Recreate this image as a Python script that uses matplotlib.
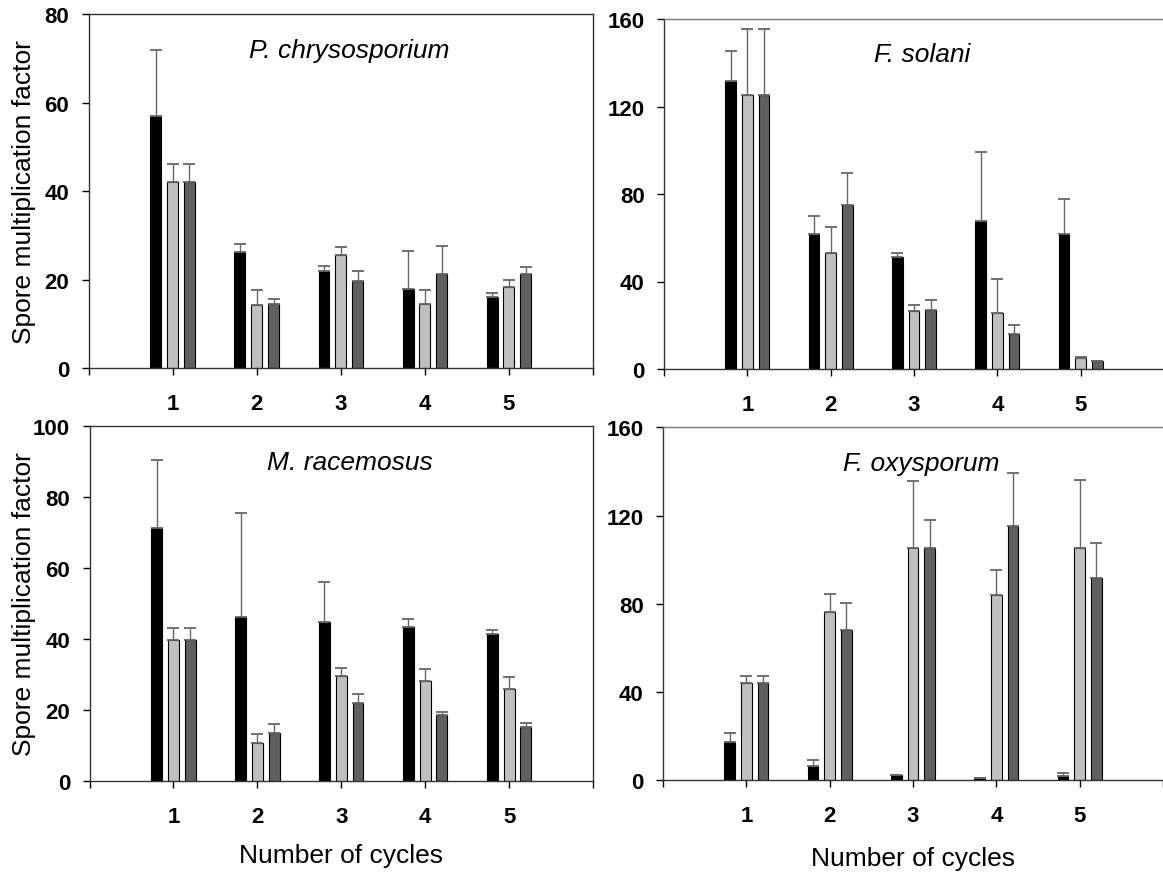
import numpy as np
import matplotlib.pyplot as plt

plt.rcParams['font.family'] = ['Liberation Sans', 'DejaVu Sans']

cycles = [1, 2, 3, 4, 5]

# P. chrysosporium
pc_black = [57.0, 26.3, 22.0, 17.9, 16.1]
pc_black_err = [15.0, 1.9, 1.1, 8.7, 1.0]
pc_light = [42.1, 14.3, 25.6, 14.6, 18.4]
pc_light_err = [4.0, 3.5, 1.9, 3.2, 1.5]
pc_dark = [42.1, 14.5, 19.8, 21.2, 21.2]
pc_dark_err = [4.0, 1.1, 2.2, 6.4, 1.6]

# F. solani
fs_black = [131.5, 61.6, 51.0, 67.5, 61.6]
fs_black_err = [13.7, 8.5, 1.9, 31.5, 16.0]
fs_light = [125.1, 52.9, 26.4, 25.6, 5.2]
fs_light_err = [30.2, 12.0, 2.7, 15.4, 0.2]
fs_dark = [125.1, 74.8, 26.8, 16.2, 3.8]
fs_dark_err = [30.2, 14.6, 4.7, 3.8, 0.0]

# M. racemosus
mr_black = [71.2, 46.3, 44.8, 43.4, 41.4]
mr_black_err = [19.2, 29.3, 11.4, 2.3, 1.1]
mr_light = [39.6, 10.6, 29.5, 28.2, 25.9]
mr_light_err = [3.5, 2.6, 2.2, 3.4, 3.3]
mr_dark = [39.6, 13.4, 22.0, 18.6, 15.1]
mr_dark_err = [3.5, 2.5, 2.6, 0.8, 1.1]

# F. oxysporum
fo_black = [17.4, 6.5, 2.3, 0.9, 2.1]
fo_black_err = [3.9, 2.7, 0.0, 0.0, 1.1]
fo_light = [44.1, 76.1, 105.3, 84.0, 105.3]
fo_light_err = [3.0, 8.4, 30.2, 11.5, 31.0]
fo_dark = [44.1, 68.0, 105.3, 115.1, 91.9]
fo_dark_err = [3.0, 12.4, 12.8, 24.2, 15.8]

W, H = 1163, 879
fig = plt.figure(figsize=(W / 100, H / 100), dpi=100)


def px_axes(x0, x1, ytop, ybot):
    return fig.add_axes([x0 / W, 1 - ybot / H, (x1 - x0) / W, (ybot - ytop) / H])


colors = ['#000000', '#c0c0c0', '#606060']
offsets = [-0.2, 0.0, 0.2]
width = 0.13


def panel(ax, title, series, errs, ymax, yticks, right_side):
    x = np.array(cycles)
    for vals, err, col, off in zip(series, errs, colors, offsets):
        ax.bar(x + off, vals, width, color=col, edgecolor='#000000', linewidth=0.8, zorder=2)
        ax.errorbar(x + off, vals, yerr=[np.zeros(len(err)), err], fmt='none',
                    ecolor='#666666', elinewidth=1.0, capsize=4.5, capthick=1.3, zorder=3)
    ax.set_xlim(0, 6)
    ax.set_ylim(0, ymax)
    ax.set_xticks(range(0, 7))
    ax.set_xticklabels(['', '1', '2', '3', '4', '5', ''])
    ax.set_yticks(yticks)
    ax.tick_params(axis='x', direction='out', length=5, width=1, pad=13, labelsize=16)
    ax.tick_params(axis='y', direction='out', length=5, width=1, pad=9, labelsize=16)
    for lab in ax.get_xticklabels() + ax.get_yticklabels():
        lab.set_fontweight('bold')
    for sp in ax.spines.values():
        sp.set_color('#333333')
        sp.set_linewidth(1.0)
    if right_side:
        ax.spines['right'].set_visible(False)
        ax.spines['top'].set_color('#777777')
    ax.text(3.1, ymax * 0.88, title, style='italic', fontsize=19, ha='center', va='baseline')


ax1 = px_axes(88.6, 593, 15.3, 369.3)
panel(ax1, 'P. chrysosporium', [pc_black, pc_light, pc_dark],
      [pc_black_err, pc_light_err, pc_dark_err], 80, [0, 20, 40, 60, 80], False)

ax2 = px_axes(664, 1164, 20, 370)
panel(ax2, 'F. solani', [fs_black, fs_light, fs_dark],
      [fs_black_err, fs_light_err, fs_dark_err], 160, [0, 40, 80, 120, 160], True)

ax3 = px_axes(89.5, 593, 427.3, 781.7)
panel(ax3, 'M. racemosus', [mr_black, mr_light, mr_dark],
      [mr_black_err, mr_light_err, mr_dark_err], 100, [0, 20, 40, 60, 80, 100], False)

ax4 = px_axes(663, 1163, 428.3, 781.3)
panel(ax4, 'F. oxysporum', [fo_black, fo_light, fo_dark],
      [fo_black_err, fo_light_err, fo_dark_err], 160, [0, 40, 80, 120, 160], True)

fig.text(24 / W, 1 - 192 / H, 'Spore multiplication factor', rotation=90,
         fontsize=19, ha='center', va='center')
fig.text(24 / W, 1 - 604 / H, 'Spore multiplication factor', rotation=90,
         fontsize=19, ha='center', va='center')
fig.text(341 / W, 1 - 856 / H, 'Number of cycles', fontsize=19, ha='center', va='center')
fig.text(913 / W, 1 - 859 / H, 'Number of cycles', fontsize=19, ha='center', va='center')

fig.savefig('out.png', dpi=100)
